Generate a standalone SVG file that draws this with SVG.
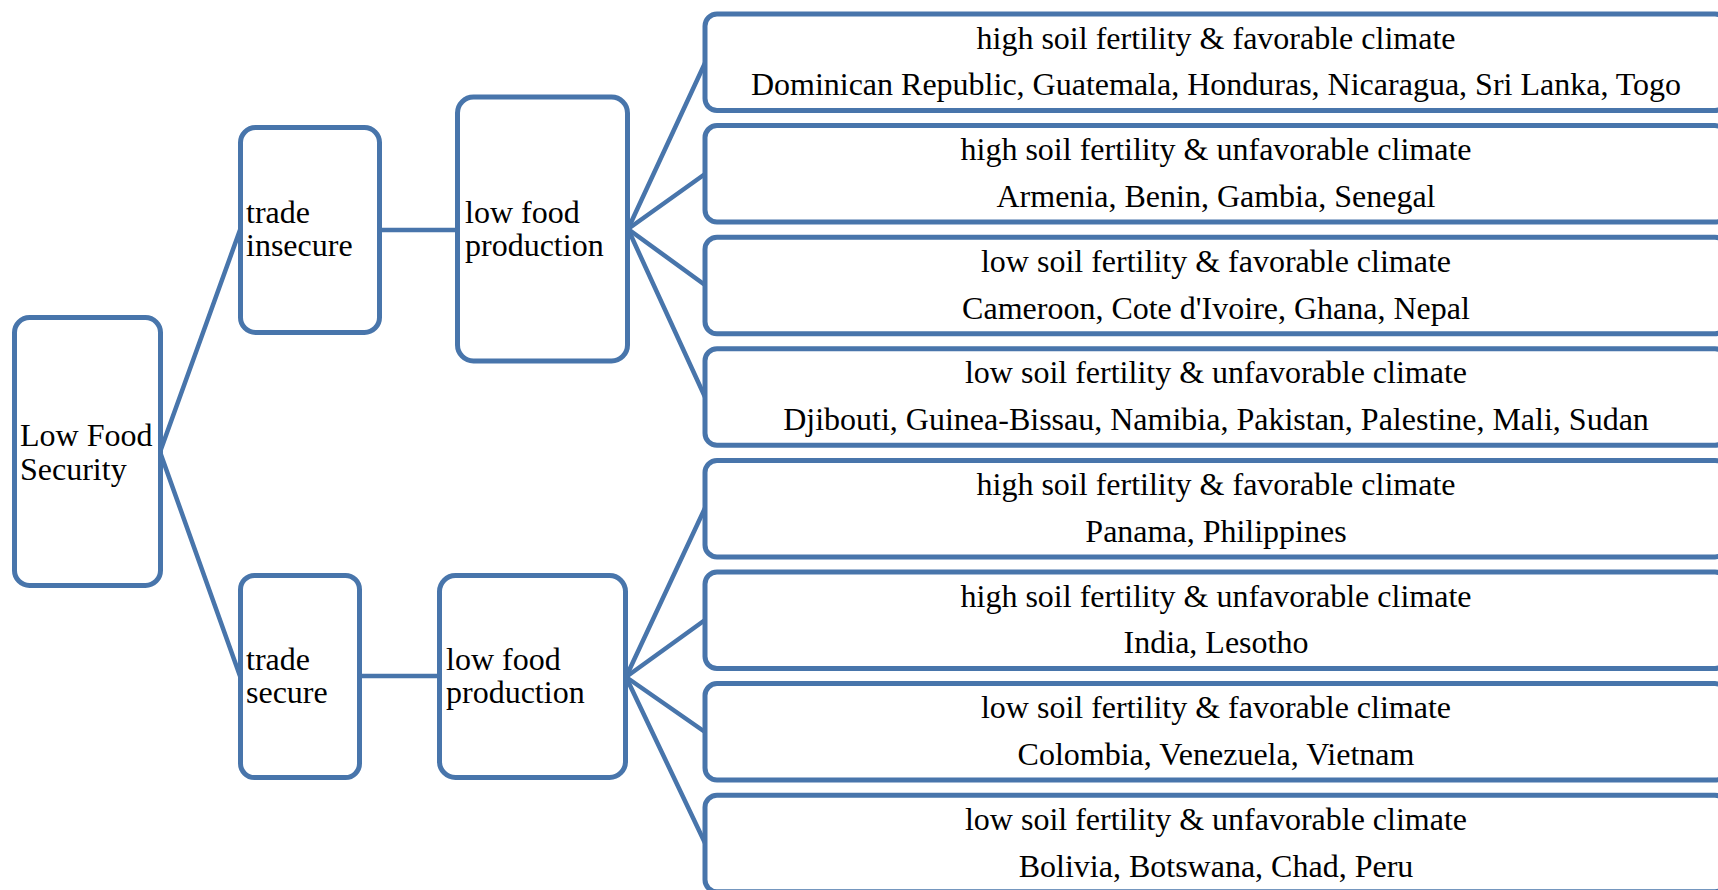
<svg xmlns="http://www.w3.org/2000/svg" width="1718" height="890" viewBox="0 0 1718 890">
<style>
.box{fill:#ffffff;stroke:#4875AB;stroke-width:5}
.cn{stroke:#4875AB;stroke-width:4.5;fill:none;stroke-linecap:round}
text{font-family:"Liberation Serif","Times New Roman",serif;font-size:32px;fill:#000}
.c{text-anchor:middle}
</style>
<rect width="1718" height="890" fill="#ffffff"/>
<g id="connectors">
<line class="cn" x1="160" y1="452" x2="240" y2="230"/>
<line class="cn" x1="160" y1="452" x2="240" y2="676"/>
<line class="cn" x1="380" y1="230" x2="457" y2="230"/>
<line class="cn" x1="360" y1="676" x2="440" y2="676"/>
<line class="cn" x1="628" y1="229" x2="705" y2="63"/>
<line class="cn" x1="628" y1="229" x2="705" y2="174"/>
<line class="cn" x1="628" y1="229" x2="705" y2="285"/>
<line class="cn" x1="628" y1="229" x2="705" y2="397"/>
<line class="cn" x1="626" y1="677" x2="705" y2="508"/>
<line class="cn" x1="626" y1="677" x2="705" y2="620"/>
<line class="cn" x1="626" y1="677" x2="705" y2="732"/>
<line class="cn" x1="626" y1="677" x2="705" y2="843"/>
</g>
<g id="root">
<rect class="box" x="14.5" y="317.5" width="146" height="268" rx="15"/>
<text x="20" y="446">Low Food</text>
<text x="20" y="480">Security</text>
</g>
<g id="trade-insecure">
<rect class="box" x="240.5" y="127.5" width="139" height="205" rx="15"/>
<text x="246" y="223">trade</text>
<text x="246" y="256">insecure</text>
</g>
<g id="lfp-insecure">
<rect class="box" x="457.5" y="97" width="170" height="264" rx="16"/>
<text x="465" y="223">low food</text>
<text x="465" y="256">production</text>
</g>
<g id="trade-secure">
<rect class="box" x="240.5" y="575.5" width="119" height="202" rx="14"/>
<text x="246" y="670">trade</text>
<text x="246" y="703">secure</text>
</g>
<g id="lfp-secure">
<rect class="box" x="439.5" y="575.5" width="186" height="202" rx="16"/>
<text x="446" y="670">low food</text>
<text x="446" y="703">production</text>
</g>
<g id="leaf1">
<rect class="box" x="705" y="14" width="1022" height="96.5" rx="12"/>
<text class="c" x="1216" y="48.5">high soil fertility &amp; favorable climate</text>
<text class="c" x="1216" y="95.3">Dominican Republic, Guatemala, Honduras, Nicaragua, Sri Lanka, Togo</text>
</g>
<g id="leaf2">
<rect class="box" x="705" y="125.6" width="1022" height="96.5" rx="12"/>
<text class="c" x="1216" y="160.1">high soil fertility &amp; unfavorable climate</text>
<text class="c" x="1216" y="206.9">Armenia, Benin, Gambia, Senegal</text>
</g>
<g id="leaf3">
<rect class="box" x="705" y="237.2" width="1022" height="96.5" rx="12"/>
<text class="c" x="1216" y="271.7">low soil fertility &amp; favorable climate</text>
<text class="c" x="1216" y="318.5">Cameroon, Cote d'Ivoire, Ghana, Nepal</text>
</g>
<g id="leaf4">
<rect class="box" x="705" y="348.8" width="1022" height="96.5" rx="12"/>
<text class="c" x="1216" y="383.3">low soil fertility &amp; unfavorable climate</text>
<text class="c" x="1216" y="430.1">Djibouti, Guinea-Bissau, Namibia, Pakistan, Palestine, Mali, Sudan</text>
</g>
<g id="leaf5">
<rect class="box" x="705" y="460.4" width="1022" height="96.5" rx="12"/>
<text class="c" x="1216" y="494.9">high soil fertility &amp; favorable climate</text>
<text class="c" x="1216" y="541.7">Panama, Philippines</text>
</g>
<g id="leaf6">
<rect class="box" x="705" y="572" width="1022" height="96.5" rx="12"/>
<text class="c" x="1216" y="606.5">high soil fertility &amp; unfavorable climate</text>
<text class="c" x="1216" y="653.3">India, Lesotho</text>
</g>
<g id="leaf7">
<rect class="box" x="705" y="683.6" width="1022" height="96.5" rx="12"/>
<text class="c" x="1216" y="718.1">low soil fertility &amp; favorable climate</text>
<text class="c" x="1216" y="764.9">Colombia, Venezuela, Vietnam</text>
</g>
<g id="leaf8">
<rect class="box" x="705" y="795.2" width="1022" height="96.5" rx="12"/>
<text class="c" x="1216" y="829.7">low soil fertility &amp; unfavorable climate</text>
<text class="c" x="1216" y="876.5">Bolivia, Botswana, Chad, Peru</text>
</g>
</svg>
